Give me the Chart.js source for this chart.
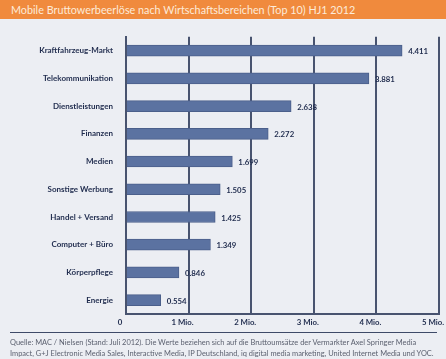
<!DOCTYPE html>
<html>
<head>
<meta charset="utf-8">
<script src="https://cdn.jsdelivr.net/npm/chart.js@4"></script>
<style>
  html, body { margin: 0; padding: 0; }
  body { width: 446px; height: 359px; overflow: hidden; background: #eceef3; position: relative; font-family: Lato, "Open Sans", sans-serif; }
  #title { position: absolute; left: 0; top: 0; width: 446px; height: 19px; background: #f08a3d; color: #fdebd9; font-size: 10.8px; line-height: 19px; padding-left: 11px; box-sizing: border-box; white-space: nowrap; }
  #wrap { position: absolute; left: 0; top: 19px; width: 466px; height: 314px; }
  #rule { position: absolute; left: 10px; top: 332px; width: 427px; height: 0; border-top: 1.5px solid #3e4a68; }
  #source { position: absolute; left: 10px; top: 337px; width: 440px; font-size: 7.45px; line-height: 11px; color: #5c6170; white-space: nowrap; }
</style>
</head>
<body>
<div id="title">Mobile Bruttowerbeerlöse nach Wirtschaftsbereichen (Top 10) HJ1 2012</div>
<div id="wrap"><canvas id="chart"></canvas></div>
<div id="rule"></div>
<div id="source">Quelle: MAC / Nielsen (Stand: Juli 2012). Die Werte beziehen sich auf die Bruttoumsätze der Vermarkter Axel Springer Media<br>Impact, G+J Electronic Media Sales, Interactive Media, IP Deutschland, iq digital media marketing, United Internet Media und YOC.</div>
<script>
const categories = ["Kraftfahrzeug-Markt", "Telekommunikation", "Dienstleistungen", "Finanzen", "Medien", "Sonstige Werbung", "Handel + Versand", "Computer + Büro", "Körperpflege", "Energie"];
const revenue = [4.411, 3.881, 2.638, 2.272, 1.699, 1.505, 1.425, 1.349, 0.846, 0.554];
const tickLabels = ["0", "1 Mio.", "2 Mio.", "3 Mio.", "4 Mio.", "5 Mio."];

const navy = "#1f2b4d";
const lineCol = "#48536f";

// writes the value next to each bar
const valueLabels = {
    id: "valueLabels",
    afterDatasetsDraw(chart) {
        const ctx = chart.ctx;
        ctx.save();
        ctx.font = "bold 7.8px Lato";
        ctx.fillStyle = navy;
        ctx.textBaseline = "middle";
        chart.getDatasetMeta(0).data.forEach((bar, i) => {
            ctx.fillText(revenue[i].toFixed(3), bar.x + 6, bar.y + 1);
        });
        ctx.restore();
    }
};

new Chart(document.getElementById("chart"), {
    type: "bar",
    data: {
        labels: categories,
        datasets: [{
            data: revenue,
            backgroundColor: "#5b72a1",
            borderColor: "#4b5f8b",
            borderWidth: 1,
            barThickness: 11
        }]
    },
    options: {
        indexAxis: "y",
        responsive: true,
        maintainAspectRatio: false,
        animation: false,
        layout: { padding: { top: 15, right: 27, left: 0, bottom: 0 } },
        plugins: { legend: { display: false }, tooltip: { enabled: false } },
        scales: {
            x: {
                min: 0,
                max: 5,
                ticks: {
                    stepSize: 1,
                    color: navy,
                    font: { family: "Lato", size: 7.8, weight: "bold" },
                    padding: 4,
                    labelOffset: -6,
                    callback: (v, i) => tickLabels[i]
                },
                grid: { color: lineCol, lineWidth: 2, drawTicks: false },
                border: { color: lineCol, width: 2 },
                afterFit: s => { s.height = 19; }
            },
            y: {
                ticks: {
                    color: navy,
                    font: { family: "Lato", size: 8, weight: "bold" },
                    padding: 13
                },
                grid: { display: false, drawTicks: false },
                border: { color: lineCol, width: 2 },
                afterFit: s => { s.width = 126; }
            }
        }
    },
    plugins: [valueLabels]
});
</script>
</body>
</html>
